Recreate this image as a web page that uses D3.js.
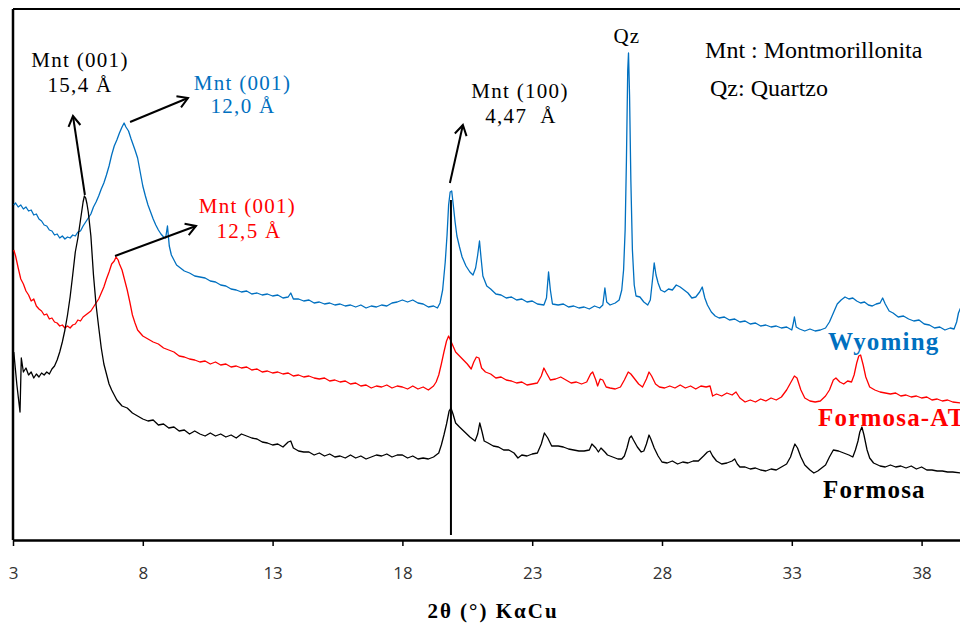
<!DOCTYPE html>
<html>
<head>
<meta charset="utf-8">
<script src="https://cdn.jsdelivr.net/npm/d3@7"></script>
<style>
  body { margin: 0; background: #fff; }
  svg { display: block; }
</style>
</head>
<body>
<div id="chart"></div>
<script>
var width = 960, height = 625;

// 2θ (degrees) , intensity (arbitrary units, offset per sample)
const wyoming = [
  [3.03,335],[3.1,337],[3.2,333],[3.3,335],[3.4,331],[3.5,333],[3.6,329],[3.7,330],[3.8,325],[3.9,326],
  [4.0,321],[4.1,319],[4.2,315],[4.3,314],[4.4,310],[4.5,309],[4.6,305],[4.7,306],[4.8,302],[4.9,304],
  [5.0,301],[5.1,303],[5.2,302],[5.3,305],[5.4,304],[5.5,308],[5.6,309],[5.7,314],[5.8,318],[5.9,322],
  [6.0,326],[6.1,333],[6.2,338],[6.3,344],[6.4,351],[6.5,357],[6.6,365],[6.7,374],[6.8,385],[6.9,394],
  [7.0,400],[7.1,407],[7.2,413],[7.28,417],[7.35,413],[7.45,409],[7.55,401],[7.7,390],[7.8,382],[7.9,368],
  [8.0,354],[8.1,344],[8.2,335],[8.3,328],[8.4,321],[8.5,315],[8.6,310],[8.7,306],[8.8,303],[8.88,302],
  [8.95,314],[9.02,294],[9.1,285],[9.2,280],[9.3,275],[9.4,273],[9.6,269],[9.8,267],[10.0,264],[10.2,263],
  [10.4,262],[10.6,259],[10.8,258],[11.0,255],[11.2,254],[11.4,251],[11.6,250],[11.8,248],[12.0,249],[12.2,246],
  [12.4,247],[12.6,245],[12.8,246],[13.0,244],[13.2,245],[13.4,242],[13.6,243],[13.7,247],[13.8,241],[14.0,241],
  [14.2,239],[14.4,240],[14.6,237],[14.8,238],[15.0,236],[15.2,237],[15.4,235],[15.6,236],[15.8,234],[16.0,235],
  [16.2,233],[16.4,235],[16.6,232],[16.8,234],[17.0,233],[17.2,235],[17.4,234],[17.6,237],[17.8,238],[18.0,240],
  [18.2,238],[18.4,240],[18.6,237],[18.8,236],[19.0,233],[19.2,234],[19.35,232],[19.45,237],[19.55,250],[19.65,278],
  [19.72,305],[19.78,335],[19.84,348],[19.9,349],[19.96,335],[20.03,318],[20.1,304],[20.2,293],[20.3,283],[20.45,274],
  [20.6,268],[20.72,265],[20.82,272],[20.9,285],[20.97,299],[21.03,282],[21.1,264],[21.25,254],[21.4,251],[21.6,246],
  [21.8,245],[22.0,242],[22.2,243],[22.4,240],[22.6,241],[22.8,238],[23.0,239],[23.2,236],[23.45,235],[23.55,242],
  [23.63,268],[23.7,250],[23.78,236],[24.0,235],[24.2,236],[24.4,233],[24.6,234],[24.8,232],[25.0,233],[25.2,231],
  [25.4,234],[25.6,232],[25.72,235],[25.8,252],[25.87,238],[26.0,235],[26.2,237],[26.35,240],[26.45,250],[26.52,270],
  [26.58,310],[26.63,380],[26.68,470],[26.71,487],[26.75,445],[26.8,360],[26.86,290],[26.93,255],[27.0,244],[27.15,243],
  [27.3,238],[27.45,235],[27.55,240],[27.65,264],[27.7,277],[27.77,265],[27.85,257],[27.95,250],[28.1,248],[28.25,251],
  [28.4,250],[28.55,255],[28.7,253],[28.85,250],[29.0,247],[29.15,242],[29.3,243],[29.45,248],[29.55,253],[29.65,242],
  [29.75,235],[29.9,228],[30.05,224],[30.2,222],[30.4,223],[30.6,220],[30.8,221],[31.0,218],[31.2,219],[31.4,216],
  [31.6,217],[31.8,214],[32.0,215],[32.2,213],[32.4,214],[32.6,212],[32.8,213],[33.0,210],[33.06,217],[33.1,223],
  [33.17,213],[33.3,211],[33.5,209],[33.7,211],[33.9,209],[34.1,210],[34.3,212],[34.45,218],[34.6,227],[34.75,236],
  [34.9,240],[35.05,243],[35.2,241],[35.35,242],[35.5,239],[35.65,237],[35.8,238],[35.95,235],[36.1,234],[36.25,236],
  [36.4,237],[36.5,242],[36.6,236],[36.75,229],[36.9,227],[37.1,223],[37.3,224],[37.5,221],[37.7,219],[37.9,220],
  [38.1,216],[38.3,215],[38.5,212],[38.7,213],[38.9,210],[39.1,212],[39.25,211],[39.35,218],[39.42,227],[39.5,232]
];

const formosaAT = [
  [3.03,290],[3.1,284],[3.2,272],[3.3,261],[3.4,256],[3.5,249],[3.6,245],[3.7,239],[3.8,241],[3.9,234],
  [4.0,231],[4.1,229],[4.2,225],[4.3,226],[4.4,221],[4.5,222],[4.6,218],[4.7,217],[4.8,214],[4.9,215],
  [5.0,212],[5.1,214],[5.2,212],[5.3,215],[5.4,216],[5.5,220],[5.6,219],[5.7,223],[5.8,225],[5.9,227],
  [6.0,229],[6.1,233],[6.2,237],[6.3,241],[6.4,247],[6.5,253],[6.6,261],[6.7,268],[6.8,276],[6.9,279],
  [6.97,283],[7.05,280],[7.1,276],[7.2,270],[7.3,260],[7.4,250],[7.5,238],[7.6,225],[7.7,217],[7.8,210],
  [7.9,207],[8.0,204],[8.2,201],[8.4,198],[8.6,196],[8.8,192],[9.0,190],[9.2,188],[9.4,184],[9.6,183],
  [9.8,181],[10.0,180],[10.2,178],[10.4,179],[10.6,176],[10.8,178],[11.0,175],[11.2,176],[11.4,173],[11.6,174],
  [11.8,172],[12.0,173],[12.2,170],[12.4,171],[12.6,168],[12.8,169],[13.0,167],[13.2,168],[13.4,166],[13.6,167],
  [13.8,164],[14.0,165],[14.2,163],[14.4,164],[14.6,162],[14.8,161],[15.0,162],[15.2,159],[15.4,160],[15.6,158],
  [15.8,159],[16.0,156],[16.2,157],[16.4,154],[16.6,155],[16.8,152],[17.0,154],[17.2,153],[17.4,155],[17.6,152],
  [17.8,154],[18.0,153],[18.2,151],[18.4,154],[18.6,151],[18.8,153],[19.0,150],[19.2,154],[19.3,158],[19.4,165],
  [19.5,176],[19.6,188],[19.7,199],[19.78,204],[19.85,200],[19.95,194],[20.05,188],[20.2,184],[20.35,180],[20.5,176],
  [20.65,171],[20.75,178],[20.85,183],[20.95,182],[21.05,172],[21.2,168],[21.4,166],[21.6,162],[21.8,163],[22.0,160],
  [22.2,159],[22.4,157],[22.6,158],[22.8,155],[23.0,156],[23.2,157],[23.35,164],[23.45,172],[23.55,167],[23.7,160],
  [23.9,161],[24.1,163],[24.3,160],[24.5,157],[24.7,158],[24.9,156],[25.1,158],[25.25,166],[25.33,168],[25.45,160],
  [25.52,154],[25.62,161],[25.72,160],[25.85,153],[26.0,152],[26.2,151],[26.4,153],[26.55,160],[26.7,168],[26.8,166],
  [26.95,161],[27.1,156],[27.25,153],[27.4,161],[27.5,168],[27.6,164],[27.75,156],[27.9,153],[28.1,152],[28.3,154],
  [28.5,152],[28.7,155],[28.9,152],[29.1,154],[29.3,151],[29.5,154],[29.7,153],[29.85,154],[29.95,144],[30.1,146],
  [30.3,144],[30.5,147],[30.7,145],[30.85,148],[31.0,142],[31.2,138],[31.4,140],[31.6,138],[31.8,141],[32.0,139],
  [32.2,142],[32.4,140],[32.6,143],[32.8,150],[32.95,157],[33.1,164],[33.2,162],[33.35,150],[33.5,142],[33.7,139],
  [33.9,138],[34.1,139],[34.3,144],[34.45,150],[34.6,160],[34.7,162],[34.85,158],[35.0,156],[35.15,159],[35.3,158],
  [35.4,165],[35.5,177],[35.58,184],[35.65,185],[35.75,175],[35.85,163],[36.0,153],[36.2,150],[36.4,148],[36.6,147],
  [36.8,146],[37.0,147],[37.2,144],[37.4,145],[37.6,143],[37.8,144],[38.0,142],[38.2,143],[38.4,140],[38.6,141],
  [38.8,139],[39.0,140],[39.2,138],[39.5,137]
];

const formosa = [
  [3.03,188],[3.15,155],[3.27,128],[3.32,182],[3.4,168],[3.5,172],[3.6,165],[3.7,168],[3.8,162],[3.9,166],
  [4.0,163],[4.1,167],[4.2,165],[4.3,168],[4.4,166],[4.5,171],[4.6,174],[4.7,180],[4.8,188],[4.9,198],
  [5.0,210],[5.1,225],[5.2,243],[5.3,265],[5.4,288],[5.5,302],[5.6,320],[5.7,338],[5.75,344],[5.8,342],
  [5.85,336],[5.9,328],[6.0,304],[6.1,265],[6.2,235],[6.3,213],[6.4,192],[6.5,176],[6.6,166],[6.7,156],
  [6.8,150],[6.9,145],[7.0,140],[7.2,134],[7.4,132],[7.6,127],[7.8,124],[8.0,121],[8.2,119],[8.4,120],
  [8.6,115],[8.8,116],[9.0,112],[9.2,113],[9.4,109],[9.6,110],[9.8,106],[10.0,109],[10.2,106],[10.4,104],
  [10.6,107],[10.8,104],[11.0,106],[11.2,103],[11.4,105],[11.6,102],[11.8,106],[12.0,104],[12.2,102],[12.4,101],
  [12.6,98],[12.8,97],[13.0,95],[13.2,96],[13.4,93],[13.6,98],[13.7,99],[13.8,92],[14.0,89],[14.2,88],
  [14.4,88],[14.6,85],[14.8,87],[15.0,84],[15.2,86],[15.4,83],[15.6,84],[15.8,82],[16.0,85],[16.2,82],
  [16.4,84],[16.6,81],[16.8,83],[17.0,85],[17.2,84],[17.4,86],[17.6,83],[17.8,85],[18.0,85],[18.2,82],
  [18.4,84],[18.6,81],[18.8,82],[19.0,81],[19.2,83],[19.4,87],[19.5,95],[19.6,105],[19.7,116],[19.8,129],
  [19.87,132],[19.95,126],[20.05,117],[20.2,113],[20.4,108],[20.6,103],[20.8,99],[20.9,106],[20.98,117],[21.07,108],
  [21.15,99],[21.3,97],[21.5,94],[21.7,93],[21.9,90],[22.1,90],[22.3,87],[22.45,82],[22.6,85],[22.8,84],
  [23.0,86],[23.2,87],[23.35,96],[23.47,107],[23.6,102],[23.75,94],[24.0,94],[24.2,93],[24.4,91],[24.6,90],
  [24.8,89],[25.0,89],[25.2,90],[25.3,96],[25.45,92],[25.55,88],[25.65,92],[25.8,88],[25.9,85],[26.1,83],
  [26.3,81],[26.45,81],[26.55,84],[26.65,92],[26.75,102],[26.82,104],[26.9,100],[27.05,93],[27.2,88],[27.3,89],
  [27.4,96],[27.5,105],[27.57,101],[27.7,92],[27.85,84],[28.0,78],[28.2,77],[28.4,79],[28.6,76],[28.8,78],
  [29.0,77],[29.2,79],[29.4,79],[29.6,84],[29.75,88],[29.85,89],[29.95,84],[30.1,79],[30.3,76],[30.5,77],
  [30.7,79],[30.8,81],[30.9,76],[31.0,73],[31.2,73],[31.4,71],[31.6,72],[31.8,70],[32.0,69],[32.2,71],
  [32.4,70],[32.6,73],[32.8,76],[32.95,83],[33.05,91],[33.12,96],[33.22,92],[33.35,83],[33.5,75],[33.7,70],
  [33.85,67],[34.0,69],[34.15,72],[34.3,75],[34.45,83],[34.6,90],[34.8,89],[35.0,87],[35.2,85],[35.35,83],
  [35.45,90],[35.55,99],[35.62,108],[35.7,113],[35.78,105],[35.9,90],[36.0,82],[36.15,77],[36.4,74],[36.6,73],
  [36.8,75],[37.0,73],[37.2,74],[37.4,72],[37.6,74],[37.8,71],[38.0,73],[38.2,70],[38.4,70],[38.6,69],
  [38.8,69],[39.0,68],[39.2,68],[39.5,67]
];

const xTicks = [3, 8, 13, 18, 23, 28, 33, 38];

// annotations: [x0, y0, x1, y1] in data units (arrow points to x1,y1)
const arrows = [
  [5.77, 345, 5.31, 424],
  [7.51, 418, 9.74, 442],
  [6.93, 284, 10.05, 314],
  [19.83, 357, 20.33, 415]
];
const markerLine = [19.87, 340, 19.87, 5];

// [text, x, y, colour]
const peakLabels = [
  ["Mnt (001)", 5.58, 473, "#000"],
  ["15,4 Å", 5.58, 448, "#000"],
  ["Mnt (001)", 11.84, 450, "#0070C0"],
  ["12,0 Å", 11.86, 427, "#0070C0"],
  ["Mnt (001)", 12.03, 327, "#FF0000"],
  ["12,5 Å", 12.09, 302, "#FF0000"],
  ["Mnt (100)", 22.53, 442, "#000"],
  ["4,47  Å", 22.57, 417, "#000"],
  ["Qz", 26.65, 497, "#000"]
];
const legendLines = [
  ["Mnt : Montmorillonita", 29.66, 482],
  ["Qz: Quartzo", 29.85, 444]
];
const seriesLabels = [
  ["Wyoming", 34.39, 190, "#0070C0"],
  ["Formosa-AT", 34.01, 114, "#FF0000"],
  ["Formosa", 34.20, 42, "#000"]
];

const x = d3.scaleLinear().domain([3, 40]).range([13, 13 + 37 * 25.96]);
const y = d3.scaleLinear().domain([0, 531]).range([540, 9]);

const svg = d3.select("#chart").append("svg")
    .attr("width", width)
    .attr("height", height);

svg.append("defs").append("marker")
    .attr("id", "arrow")
    .attr("markerUnits", "userSpaceOnUse")
    .attr("viewBox", "-12 -8 14 16")
    .attr("markerWidth", 14).attr("markerHeight", 16)
    .attr("refX", 0).attr("refY", 0)
    .attr("orient", "auto")
  .append("path")
    .attr("d", "M-10,-6L0,0L-10,6")
    .attr("fill", "none")
    .attr("stroke", "#000")
    .attr("stroke-width", 2);

// frame (top and left)
svg.append("line")
    .attr("x1", x(3)).attr("x2", width)
    .attr("y1", y(531)).attr("y2", y(531))
    .attr("stroke", "#000").attr("stroke-width", 2);
svg.append("line")
    .attr("x1", x(3)).attr("x2", x(3))
    .attr("y1", y(531)).attr("y2", y(0))
    .attr("stroke", "#000").attr("stroke-width", 2.5);

const line = d3.line()
    .x(function(d) { return x(d[0]); })
    .y(function(d) { return y(d[1]); });

const series = [
  [wyoming, "#0070C0"],
  [formosaAT, "#FF0000"],
  [formosa, "#000"]
];
series.forEach(function(s) {
  svg.append("path")
      .datum(s[0])
      .attr("d", line)
      .attr("fill", "none")
      .attr("stroke", s[1])
      .attr("stroke-width", 1.3)
      .attr("stroke-linejoin", "round");
});

// x axis
const xAxis = svg.append("g")
    .attr("transform", "translate(0," + y(0) + ")")
    .call(d3.axisBottom(x).tickValues(xTicks).tickSize(6).tickSizeOuter(0).tickPadding(21));
xAxis.select(".domain").attr("stroke", "#000").attr("stroke-width", 2.5);
xAxis.selectAll(".tick line").attr("stroke", "#000").attr("stroke-width", 1.5);
xAxis.selectAll(".tick text")
    .attr("fill", "#333")
    .style("font-family", "'Open Sans', 'DejaVu Sans', sans-serif")
    .style("font-size", "17px");

svg.append("text")
    .attr("x", 493).attr("y", 618)
    .attr("text-anchor", "middle")
    .style("font-family", "'Liberation Serif', 'Times New Roman', serif")
    .style("font-weight", "bold")
    .style("font-size", "21px")
    .style("letter-spacing", "2px")
    .text("2θ (°) KαCu");

// annotation lines
svg.append("line")
    .attr("x1", x(markerLine[0])).attr("y1", y(markerLine[1]))
    .attr("x2", x(markerLine[2])).attr("y2", y(markerLine[3]))
    .attr("stroke", "#000").attr("stroke-width", 2);

svg.selectAll("line.arrow")
    .data(arrows)
    .join("line")
    .attr("class", "arrow")
    .attr("x1", function(d) { return x(d[0]); })
    .attr("y1", function(d) { return y(d[1]); })
    .attr("x2", function(d) { return x(d[2]); })
    .attr("y2", function(d) { return y(d[3]); })
    .attr("stroke", "#000")
    .attr("stroke-width", 2)
    .attr("marker-end", "url(#arrow)");

svg.selectAll("text.peak")
    .data(peakLabels)
    .join("text")
    .attr("class", "peak")
    .attr("x", function(d) { return x(d[1]); })
    .attr("y", function(d) { return y(d[2]); })
    .attr("text-anchor", "middle")
    .attr("fill", function(d) { return d[3]; })
    .style("font-family", "'Liberation Serif', 'Times New Roman', serif")
    .style("font-size", "21px")
    .style("letter-spacing", "1.3px")
    .style("white-space", "pre")
    .text(function(d) { return d[0]; });

svg.selectAll("text.legend")
    .data(legendLines)
    .join("text")
    .attr("class", "legend")
    .attr("x", function(d) { return x(d[1]); })
    .attr("y", function(d) { return y(d[2]); })
    .attr("fill", "#000")
    .style("font-family", "'Liberation Serif', 'Times New Roman', serif")
    .style("font-size", "24px")
    .text(function(d) { return d[0]; });

svg.selectAll("text.series")
    .data(seriesLabels)
    .join("text")
    .attr("class", "series")
    .attr("x", function(d) { return x(d[1]); })
    .attr("y", function(d) { return y(d[2]); })
    .attr("fill", function(d) { return d[3]; })
    .style("font-family", "'Liberation Serif', 'Times New Roman', serif")
    .style("font-weight", "bold")
    .style("font-size", "25px")
    .style("letter-spacing", "1.2px")
    .text(function(d) { return d[0]; });
</script>
</body>
</html>
